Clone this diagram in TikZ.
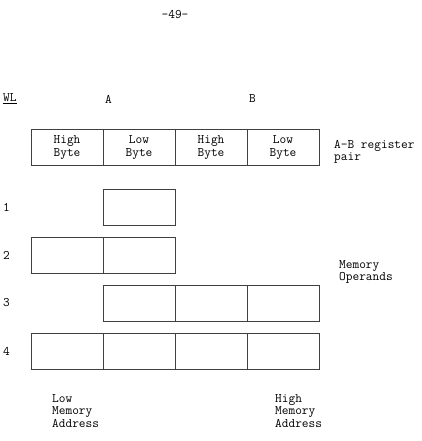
\documentclass[tikz,border=0pt]{standalone}
\usepackage{fontspec}
\begin{document}
\begin{tikzpicture}[x=1pt, y=-1pt,
    font=\ttfamily\fontsize{13}{12.5}\selectfont\addfontfeatures{LetterSpace=5},
    cell/.style={draw=black!75, line width=0.7pt, minimum width=72pt,
      minimum height=36pt, inner sep=0pt, outer sep=0pt, align=center},
    lbl/.style={anchor=west, align=left, inner sep=0pt}]
    \useasboundingbox (0,0) rectangle (421,441);

    \node[inner sep=0pt] (page) at (175,15) {-49-};
    \node[lbl] (wl) at (3,99) {\underline{WL}};
    \node[lbl] (la) at (105,99) {A};
    \node[lbl] (lb) at (249,99) {B};

    % register pair
    \node[cell] (rah) at (67,147.5)  {High\\Byte};
    \node[cell] (ral) at (139,147.5) {Low\\Byte};
    \node[cell] (rbh) at (211,147.5) {High\\Byte};
    \node[cell] (rbl) at (283,147.5) {Low\\Byte};
    \node[lbl] (reg) at (334,152) {A-B register\\pair};

    % memory operands
    \node[cell] (m1b) at (139,207.5) {};
    \node[cell] (m2a) at (67,255) {};
    \node[cell] (m2b) at (139,255) {};
    \foreach \x/\n in {139/b,211/c,283/d} { \node[cell] (m3\n) at (\x,303) {}; }
    \foreach \x/\n in {67/a,139/b,211/c,283/d} { \node[cell] (m4\n) at (\x,351.5) {}; }
    \node[lbl] (ops) at (339,272) {Memory\\Operands};

    \foreach \y/\n in {207/1,255/2,303/3,351/4} { \node[lbl] (wl\n) at (3,\y) {\n}; }

    \node[lbl] (low) at (52,411) {Low\\Memory\\Address};
    \node[lbl] (high) at (275,411) {High\\Memory\\Address};
  \end{tikzpicture}
\end{document}
